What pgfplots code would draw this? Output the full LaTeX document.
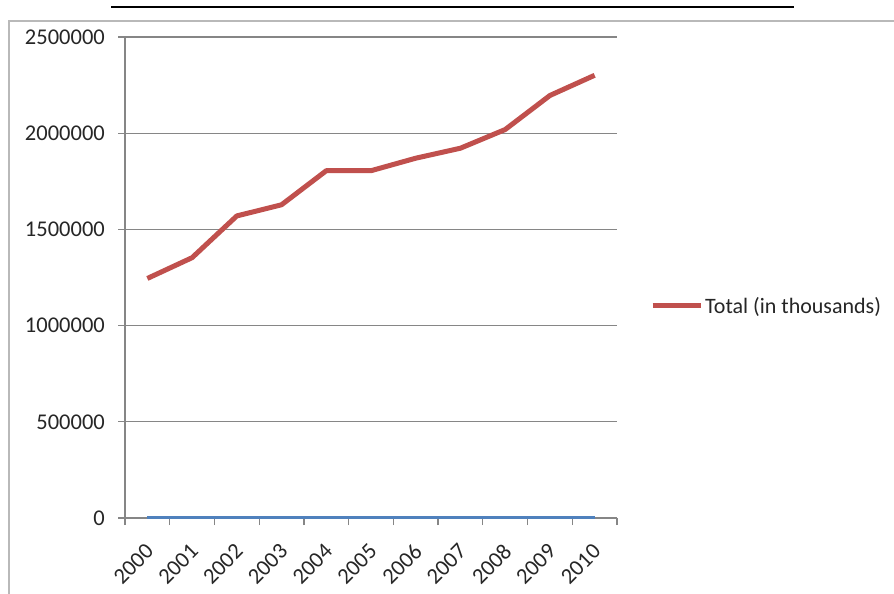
\documentclass[border=0pt]{standalone}
\usepackage{fontspec}
\setmainfont{Carlito}
\usepackage{pgfplots}
\pgfplotsset{compat=1.18}
\definecolor{exred}{HTML}{C0504D}
\definecolor{exblue}{HTML}{4F81BD}
\definecolor{exgrid}{HTML}{868686}
\begin{document}
\begin{tikzpicture}
\useasboundingbox (0pt,0pt) rectangle (894pt,594pt);
\draw[gray!55, line width=1.3pt] (9pt,0pt) -- (9pt,573pt) -- (894pt,573pt);
\draw[black, line width=2pt] (111pt,587pt) -- (794pt,587pt);
\begin{axis}[
  at={(125pt,76pt)}, anchor=south west,
  scale only axis, width=492pt, height=481pt,
  xmin=-0.5, xmax=10.5, ymin=0, ymax=2500000,
  axis x line*=bottom, axis y line*=left,
  axis line style={exgrid, line width=1.3pt, -},
  xtick={0,...,10},
  xticklabels={2000,2001,2002,2003,2004,2005,2006,2007,2008,2009,2010},
  minor xtick={-0.5,0.5,...,10.5},
  major x tick style={draw=none},
  minor x tick style={exgrid, line width=1.3pt},
  minor tick length=7pt,
  ytick={0,500000,...,2500000},
  y tick style={exgrid, line width=1.3pt},
  major tick length=7pt,
  tick align=outside,
  ymajorgrids, grid style={exgrid, line width=1.3pt},
  scaled y ticks=false,
  /pgf/number format/assume math mode=true,
  yticklabel={\pgfmathprintnumber[fixed,1000 sep={},precision=0]{\tick}},
  every tick label/.append style={font=\fontsize{22.5}{27}\selectfont, text=black!85},
  yticklabel style={inner sep=0pt, xshift=-13pt},
  xticklabel style={rotate=45, anchor=north east, inner sep=0pt, xshift=-14.4pt, yshift=-10.1pt},
  legend style={at={(1.067,0.441)}, anchor=west, draw=none, inner sep=0pt,
    font=\fontsize{22}{26}\selectfont, text=black!85},
  legend cell align=left,
  legend image code/.code={\draw[#1, line width=5pt] (0pt,0pt) -- (48pt,0pt);},
  clip=false,
]
\addplot[exblue, line width=3pt, forget plot] coordinates {
  (0,0) (1,0) (2,0) (3,0) (4,0) (5,0) (6,0) (7,0) (8,0) (9,0) (10,0)};
\addplot[exred, line width=5pt, line join=round] coordinates {
  (0,1245000) (1,1353000) (2,1570000) (3,1628000) (4,1805000) (5,1805000)
  (6,1870000) (7,1922000) (8,2019000) (9,2196000) (10,2301000)};
\addlegendentry{Total (in thousands)}
\end{axis}
\end{tikzpicture}
\end{document}
